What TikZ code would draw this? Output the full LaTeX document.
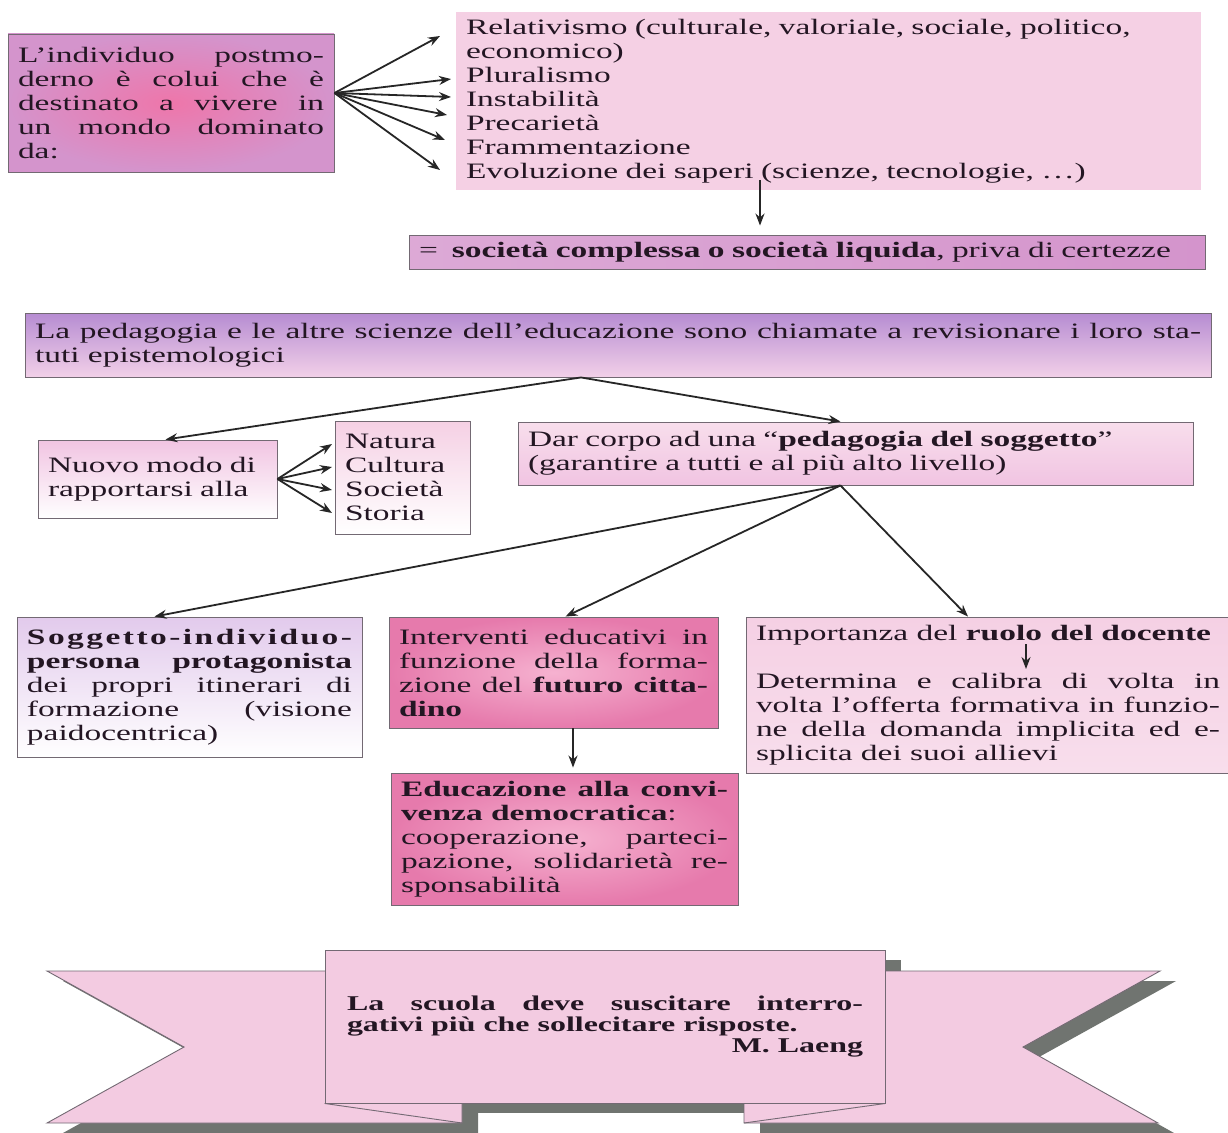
\documentclass[tikz,border=0pt]{standalone}
\usepackage{fontspec}
\setmainfont{Liberation Serif}[FakeStretch=1.52]
\usetikzlibrary{arrows.meta,calc}
\definecolor{inkc}{RGB}{35,22,35}
\definecolor{edgec}{RGB}{115,105,115}
\definecolor{mauve}{RGB}{212,148,204}
\definecolor{hotpink}{RGB}{238,118,170}
\definecolor{listpink}{RGB}{245,208,228}
\definecolor{lilac}{RGB}{182,140,210}
\definecolor{palepink}{RGB}{242,208,232}
\definecolor{rosepink}{RGB}{230,122,172}
\definecolor{softrose}{RGB}{246,178,208}
\definecolor{blush}{RGB}{241,196,226}
\definecolor{lilacG}{RGB}{226,202,236}
\definecolor{ribbon}{RGB}{243,203,225}
\definecolor{shadowgray}{RGB}{112,116,112}
\tikzset{
  box/.style      = {shape=rectangle, draw=edgec, line width=0.9pt,
                     inner xsep=10pt, inner ysep=0pt, align=justify,
                     text=inkc, font=\fontsize{22}{24}\selectfont},
  hotbox/.style   = {box, inner color=hotpink, outer color=mauve},
  lilacbox/.style = {box, top color=lilac, bottom color=palepink},
  paper/.style    = {box, top color=#1, bottom color=white},
  rosebox/.style  = {box, inner color=softrose, outer color=rosepink},
  link/.style     = {-{Stealth[length=12pt,width=9pt]}, line width=1.8pt, black!85}
}
\newcommand{\spreadword}[1]{\makebox[\hsize][s]{\spreadfirst#1\relax}}
\def\spreadfirst#1{#1\spreadrest}
\def\spreadrest#1{\ifx#1\relax\else\hfill#1\expandafter\spreadrest\fi}
\sloppy
\begin{document}
\begin{tikzpicture}[x=1pt,y=-1pt]
\fill[white] (0,0) rectangle (1228,1132);
\useasboundingbox (0,0) rectangle (1228,1132);
% first row
\node[hotbox, text width=306pt, minimum height=138pt] (A) at (171,103)
  {L’individuo postmo-\linebreak derno è colui che è\linebreak destinato a vivere in\linebreak un mondo dominato\linebreak da:};
\node[box, draw=none, fill=listpink, align=left, text width=725pt, minimum height=178pt] (B) at (828.5,101)
  {Relativismo (culturale, valoriale, sociale, politico,\\ economico)\\ Pluralismo\\ Instabilità\\ Precarietà\\ Frammentazione\\ Evoluzione dei saperi (scienze, tecnologie, …)};
\foreach \x/\y [count=\i] in {440/36,451/79,451/97,447/115,445/140,440/170}
  {\coordinate (tA\i) at (\x,\y);
   \draw[link] ([yshift=10pt]A.east) -- (tA\i);}
\node[box, left color=mauve!80!white, right color=mauve, align=left, text width=776pt, minimum height=34pt] (C) at (807,252)
  {=\hspace{14pt}\textbf{società complessa o società liquida}, priva di certezze};
\coordinate (bc) at (760,180);
\draw[link, shorten >=9pt] (bc) -- (bc |- C.north);
% second row
\node[lilacbox, text width=1166pt, minimum height=64pt] (P) at (618,345)
  {La pedagogia e le altre scienze dell’educazione sono chiamate a revisionare i loro sta-\linebreak tuti epistemologici};
\node[paper=blush, align=left, text width=219pt, minimum height=78pt] (N) at (157.5,479)
  {Nuovo modo di\\ rapportarsi alla};
\node[paper=listpink, align=left, text width=115pt, minimum height=113pt] (S) at (402.5,477.5)
  {Natura\\ Cultura\\ Società\\ Storia};
\node[box, top color=listpink!70!white, bottom color=blush, align=left, text width=655pt, minimum height=63pt] (D) at (855.5,453.5)
  {Dar corpo ad una “\textbf{pedagogia del soggetto}”\\ (garantire a tutti e al più alto livello)};
\draw[link] ([xshift=-37pt]P.south) -- ([xshift=8pt]N.north);
\draw[link] ([xshift=-37pt]P.south) -- ([xshift=-15pt]D.north);
\foreach \y [count=\i] in {444,467,490,513}
  {\coordinate (tS\i) at (332,\y);
   \draw[link] (N.east) -- (tS\i);}
% third row
\node[paper=lilacG, text width=325pt, minimum height=140pt] (G) at (189.5,687)
  {\textbf{\spreadword{Soggetto-individuo-}}\linebreak \textbf{persona protagonista}\linebreak dei propri itinerari di\linebreak formazione (visione\linebreak paidocentrica)};
\node[rosebox, text width=309pt, minimum height=111pt] (I) at (553.5,672.5)
  {Interventi educativi in\linebreak funzione della forma-\linebreak zione del \textbf{futuro citta-}\linebreak \textbf{dino}};
\node[rosebox, text width=327pt, minimum height=132pt] (E) at (564.5,839)
  {\textbf{Educazione alla convi-}\linebreak \textbf{venza democratica}:\\ cooperazione, parteci-\linebreak pazione, solidarietà re-\linebreak sponsabilità};
\node[box, top color=listpink, bottom color=listpink!70!white, text width=464pt, minimum height=156pt] (R) at (988,695)
  {Importanza del \textbf{ruolo del docente}\\[24pt] Determina e calibra di volta in\linebreak volta l’offerta formativa in funzio-\linebreak ne della domanda implicita ed e-\linebreak splicita dei suoi allievi};
\draw[link] ([xshift=-15pt]D.south) -- ([xshift=-35pt]G.north);
\draw[link] ([xshift=-15pt]D.south) -- ([xshift=12pt]I.north);
\draw[link] ([xshift=-15pt]D.south) -- ([xshift=-20pt]R.north);
\draw[link, shorten >=5pt] ([xshift=19.5pt]I.south) -- ([xshift=8.5pt]E.north);
\coordinate (ra) at (1026,644);
\coordinate (rb) at (1026,669);
\draw[link, line width=1.5pt] (ra) -- (rb);
% ribbon
\begin{scope}[shift={(16,10)}]
  \fill[shadowgray] (47,971) -- (462,971) -- (462,1123) -- (47,1123) -- (184,1047) -- cycle;
  \fill[shadowgray] (744,971) -- (1160,971) -- (1023,1047) -- (1158,1123) -- (744,1123) -- cycle;
  \fill[shadowgray] (325,950) rectangle (885,1103);
\end{scope}
\filldraw[fill=ribbon, draw=edgec, line width=0.9pt] (47,971) -- (462,971) -- (462,1123) -- (47,1123) -- (184,1047) -- cycle;
\filldraw[fill=ribbon, draw=edgec, line width=0.9pt] (744,971) -- (1160,971) -- (1023,1047) -- (1158,1123) -- (744,1123) -- cycle;
\node[box, fill=ribbon, inner xsep=22pt, text width=516pt, minimum height=153pt,
      font=\bfseries\fontsize{21}{21}\selectfont] (Q) at (605,1026.5)
  {\leftskip=15pt La scuola deve suscitare interro-\linebreak gativi più che sollecitare risposte.\\ \hspace*{\fill}M. Laeng};
\draw[edgec, line width=0.9pt] (Q.south west) -- (462,1123);
\draw[edgec, line width=0.9pt] (Q.south east) -- (744,1123);
\end{tikzpicture}
\end{document}
